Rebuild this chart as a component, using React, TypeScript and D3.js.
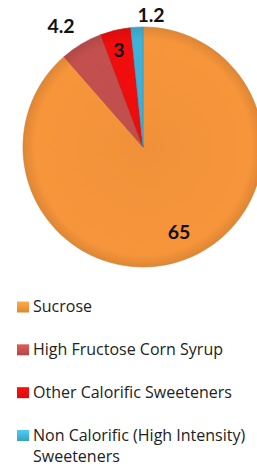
import React, { useEffect, useRef } from 'react';
import * as d3 from 'd3';

const categories = [
  'Sucrose',
  'High Fructose Corn Syrup',
  'Other Calorific Sweeteners',
  'Non Calorific (High Intensity) Sweeteners',
];
const values = [65, 4.2, 3, 1.2];
const colors = ['#F7953B', '#C4504E', '#F20D0D', '#40B2D8'];
const legendLines = [
  ['Sucrose'],
  ['High Fructose Corn Syrup'],
  ['Other Calorific Sweeteners'],
  ['Non Calorific (High Intensity)', 'Sweeteners'],
];

interface Slice {
  name: string;
  value: number;
  color: string;
}

const App: React.FC = () => {
  const svgRef = useRef<SVGSVGElement>(null);

  useEffect(() => {
    if (!svgRef.current) return;
    const svg = d3.select(svgRef.current);
    svg.selectAll('*').remove();

    const data: Slice[] = categories.map((c, i) => ({ name: c, value: values[i], color: colors[i] }));
    const cx = 143;
    const cy = 147;
    const radius = 120;

    const defs = svg.append('defs');
    data.forEach((d, i) => {
      // gradient is in the translated group's space, so centred on 0,0
      const grad = defs.append('radialGradient')
        .attr('id', `grad-${i}`)
        .attr('gradientUnits', 'userSpaceOnUse')
        .attr('cx', 0).attr('cy', 0).attr('r', radius);
      const base = d3.color(d.color)!;
      grad.append('stop').attr('offset', '0%').attr('stop-color', base.darker(0.08).toString());
      grad.append('stop').attr('offset', '90%').attr('stop-color', d.color);
      grad.append('stop').attr('offset', '100%').attr('stop-color', base.darker(0.3).toString());
    });

    const pie = d3.pie<Slice>().sort(null).value(d => d.value);
    const arc = d3.arc<d3.PieArcDatum<Slice>>().innerRadius(0).outerRadius(radius);
    const arcs = pie(data);

    const g = svg.append('g').attr('transform', `translate(${cx},${cy})`);

    g.selectAll('path')
      .data(arcs)
      .enter()
      .append('path')
      .attr('d', arc)
      .attr('fill', (d, i) => `url(#grad-${i})`)
      .attr('stroke', (d, i) => d3.color(colors[i])!.darker(0.5).toString())
      .attr('stroke-width', 0.6);

    // data labels
    const labelPos: [number, number][] = [
      [36, 85],
      [-82, -121],
      [-24, -97.5],
      [8, -132.5],
    ];
    g.selectAll('.lbl')
      .data(arcs)
      .enter()
      .append('text')
      .attr('class', 'lbl')
      .attr('x', (d, i) => labelPos[i][0])
      .attr('y', (d, i) => labelPos[i][1])
      .attr('text-anchor', 'middle')
      .attr('dy', '0.36em')
      .attr('font-family', 'Lato, "Open Sans", sans-serif')
      .attr('font-weight', 'bold')
      .attr('font-size', 19.5)
      .attr('fill', '#111')
      .text(d => String(d.data.value));

    // legend
    const rowY = d3.scalePoint<number>().domain(d3.range(categories.length)).range([306.5, 435]);
    const legend = svg.append('g');
    legendLines.forEach((lines, i) => {
      const y = rowY(i) || 0;
      const lg = defs.append('linearGradient').attr('id', `lg-${i}`).attr('x1', 0).attr('y1', 0).attr('x2', 0).attr('y2', 1);
      lg.append('stop').attr('offset', '0%').attr('stop-color', d3.color(colors[i])!.brighter(0.4).toString());
      lg.append('stop').attr('offset', '100%').attr('stop-color', d3.color(colors[i])!.darker(0.3).toString());
      legend.append('rect')
        .attr('x', 17).attr('y', y - 5)
        .attr('width', 12).attr('height', 11)
        .attr('fill', `url(#lg-${i})`);
      lines.forEach((t, j) => {
        legend.append('text')
          .attr('x', 33)
          .attr('y', y + j * 21.5)
          .attr('dy', '0.36em')
          .attr('font-family', '"Open Sans", sans-serif')
          .attr('font-size', 16)
          .attr('fill', '#222')
          .text(t);
      });
    });
  }, []);

  return (
    <svg
      ref={svgRef}
      width={257}
      height={468}
      style={{ position: 'absolute', left: 0, top: 0, background: '#fff' }}
    />
  );
};

export default App;
